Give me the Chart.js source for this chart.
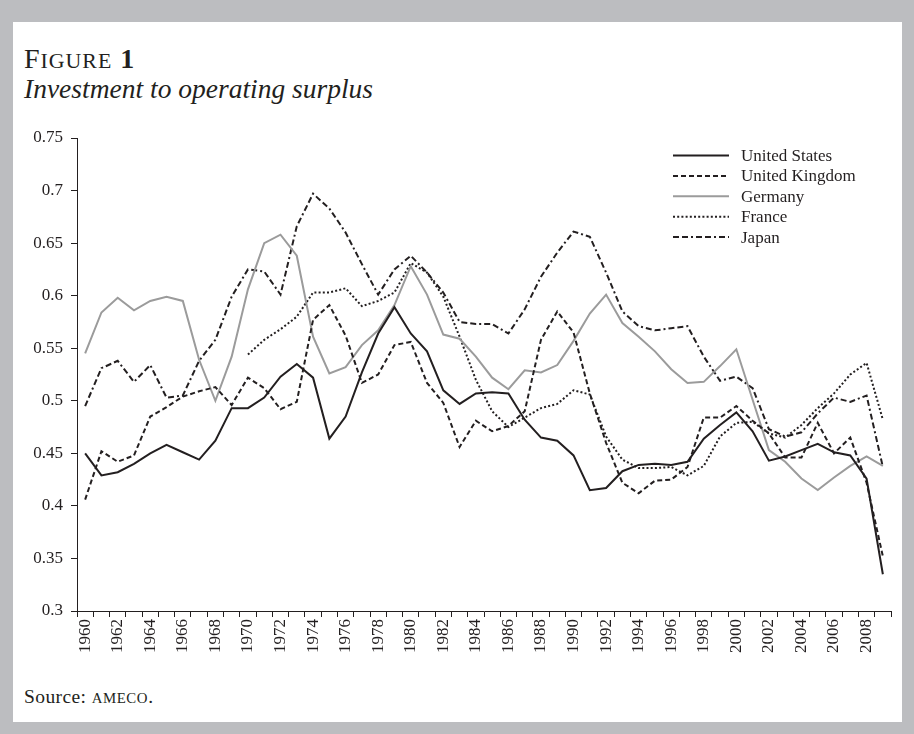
<!DOCTYPE html>
<html>
<head>
<meta charset="utf-8">
<script src="https://cdn.jsdelivr.net/npm/chart.js@4.4.1/dist/chart.umd.min.js"></script>
<style>
  html, body { margin: 0; padding: 0; }
  body { width: 914px; height: 734px; background: #bcbdc0; position: relative; overflow: hidden; font-family: "Liberation Serif", serif; color: #231f20; }
  #panel { position: absolute; left: 13px; top: 22px; width: 889px; height: 700px; background: #fff; }
  .txt { position: absolute; left: 24px; line-height: 1; white-space: nowrap; }
  #fig { top: 45px; font-size: 28px; letter-spacing: 1px; }
  #fig .sc { font-size: 0.78em; }
  #title { top: 75px; font-size: 27.5px; font-style: italic; }
  #source { top: 687px; font-size: 19.5px; letter-spacing: 0.4px; }
  #source .sc { font-size: 0.76em; letter-spacing: 0.6px; }
  canvas { position: absolute; left: 0; top: 0; }
</style>
</head>
<body>
<div id="panel"></div>
<div class="txt" id="fig">F<span class="sc">IGURE</span> <b>1</b></div>
<div class="txt" id="title">Investment to operating surplus</div>
<div class="txt" id="source">Source: <span class="sc">AMECO</span>.</div>
<canvas id="chart" width="914" height="734"></canvas>
<script>
const years = [];
for (let y = 1960; y <= 2009; y++) years.push(String(y));

const unitedStates = [0.450, 0.429, 0.432, 0.440, 0.450, 0.458, 0.451, 0.444, 0.462, 0.493,
  0.493, 0.503, 0.523, 0.535, 0.522, 0.464, 0.485, 0.527, 0.564, 0.589,
  0.564, 0.547, 0.510, 0.497, 0.507, 0.508, 0.507, 0.482, 0.465, 0.462,
  0.448, 0.415, 0.417, 0.433, 0.439, 0.440, 0.439, 0.442, 0.464, 0.477,
  0.489, 0.471, 0.443, 0.447, 0.453, 0.459, 0.451, 0.448, 0.426, 0.335];

const unitedKingdom = [0.406, 0.452, 0.442, 0.448, 0.485, 0.494, 0.504, 0.509, 0.513, 0.496,
  0.522, 0.512, 0.492, 0.499, 0.577, 0.591, 0.562, 0.517, 0.525, 0.553,
  0.556, 0.517, 0.498, 0.456, 0.481, 0.471, 0.476, 0.490, 0.558, 0.585,
  0.565, 0.507, 0.460, 0.422, 0.412, 0.424, 0.425, 0.437, 0.484, 0.484,
  0.495, 0.481, 0.469, 0.446, 0.446, 0.479, 0.450, 0.465, 0.422, 0.352];

const germany = [0.545, 0.584, 0.598, 0.586, 0.595, 0.599, 0.595, 0.539, 0.500, 0.542,
  0.606, 0.650, 0.658, 0.638, 0.561, 0.526, 0.532, 0.553, 0.567, 0.591,
  0.628, 0.601, 0.563, 0.559, 0.542, 0.522, 0.511, 0.529, 0.527, 0.534,
  0.557, 0.583, 0.601, 0.574, 0.561, 0.547, 0.530, 0.517, 0.518, 0.533,
  0.549, 0.501, 0.453, 0.442, 0.426, 0.415, 0.427, 0.438, 0.447, 0.438];

const france = [null, null, null, null, null, null, null, null, null, null,
  0.544, 0.558, 0.568, 0.580, 0.603, 0.603, 0.607, 0.590, 0.595, 0.603,
  0.631, 0.622, 0.599, 0.561, 0.520, 0.490, 0.475, 0.484, 0.493, 0.497,
  0.510, 0.506, 0.466, 0.444, 0.436, 0.436, 0.437, 0.429, 0.438, 0.466,
  0.479, 0.480, 0.469, 0.465, 0.477, 0.493, 0.507, 0.525, 0.536, 0.482];

const japan = [0.495, 0.531, 0.538, 0.518, 0.534, 0.503, 0.505, 0.538, 0.558, 0.599,
  0.625, 0.623, 0.601, 0.666, 0.697, 0.683, 0.660, 0.630, 0.601, 0.625,
  0.638, 0.622, 0.603, 0.575, 0.573, 0.573, 0.564, 0.587, 0.618, 0.641,
  0.661, 0.656, 0.622, 0.585, 0.571, 0.567, 0.569, 0.571, 0.542, 0.519,
  0.523, 0.512, 0.473, 0.466, 0.470, 0.488, 0.503, 0.499, 0.505, 0.437];

const yTicks = [0.3, 0.35, 0.4, 0.45, 0.5, 0.55, 0.6, 0.65, 0.7, 0.75];

const ink = '#231f20';
const serif = '"Liberation Serif", serif';

// legend drawn inside the plot, top right
const lineLegend = {
  id: 'lineLegend',
  afterDraw(chart) {
    const ctx = chart.ctx;
    chart.data.datasets.forEach((ds, i) => {
      const y = 155.5 + i * 20.4;
      ctx.save();
      ctx.strokeStyle = ds.borderColor;
      ctx.lineWidth = ds.borderWidth;
      ctx.setLineDash(ds.borderDash || []);
      ctx.beginPath();
      ctx.moveTo(673, y);
      ctx.lineTo(729, y);
      ctx.stroke();
      ctx.fillStyle = ink;
      ctx.font = '17px ' + serif;
      ctx.textBaseline = 'middle';
      ctx.fillText(ds.label, 741, y + 1);
      ctx.restore();
    });
  }
};

const makeSet = (label, data, color, dash) => ({
  label, data,
  borderColor: color,
  borderWidth: 2,
  borderDash: dash,
  pointRadius: 0,
  tension: 0,
  spanGaps: false,
  fill: false
});

new Chart(document.getElementById('chart'), {
  type: 'line',
  data: {
    labels: years,
    datasets: [
      makeSet('United States', unitedStates, ink, []),
      makeSet('United Kingdom', unitedKingdom, ink, [5, 3]),
      makeSet('Germany', germany, '#9b9b9b', []),
      makeSet('France', france, ink, [2, 2.2]),
      makeSet('Japan', japan, ink, [6, 3, 6, 3, 2, 3])
    ]
  },
  options: {
    responsive: false,
    devicePixelRatio: 1,
    animation: false,
    layout: { padding: { left: 20, top: 138, right: 23, bottom: 73 } },
    plugins: { legend: { display: false }, tooltip: { enabled: false } },
    scales: {
      x: {
        offset: true,
        grid: { offset: true, drawOnChartArea: false, color: ink, tickLength: 6 },
        border: { color: ink, width: 1 },
        ticks: {
          autoSkip: false,
          minRotation: 90,
          maxRotation: 90,
          padding: 2,
          color: ink,
          font: { family: serif, size: 17 },
          callback: (v, i) => (i % 2 === 0 ? years[i] : '')
        },
        afterFit: (s) => { s.height = 50; }
      },
      y: {
        min: 0.3,
        max: 0.75,
        afterBuildTicks: (s) => { s.ticks = yTicks.map((v) => ({ value: v })); },
        grid: { drawOnChartArea: false, color: ink, tickLength: 6 },
        border: { color: ink, width: 1 },
        ticks: {
          padding: 8,
          color: ink,
          font: { family: serif, size: 17 },
          callback: (v) => String(Number(v.toFixed(2)))
        },
        afterFit: (s) => { s.width = 57; }
      }
    }
  },
  plugins: [lineLegend]
});
</script>
</body>
</html>
